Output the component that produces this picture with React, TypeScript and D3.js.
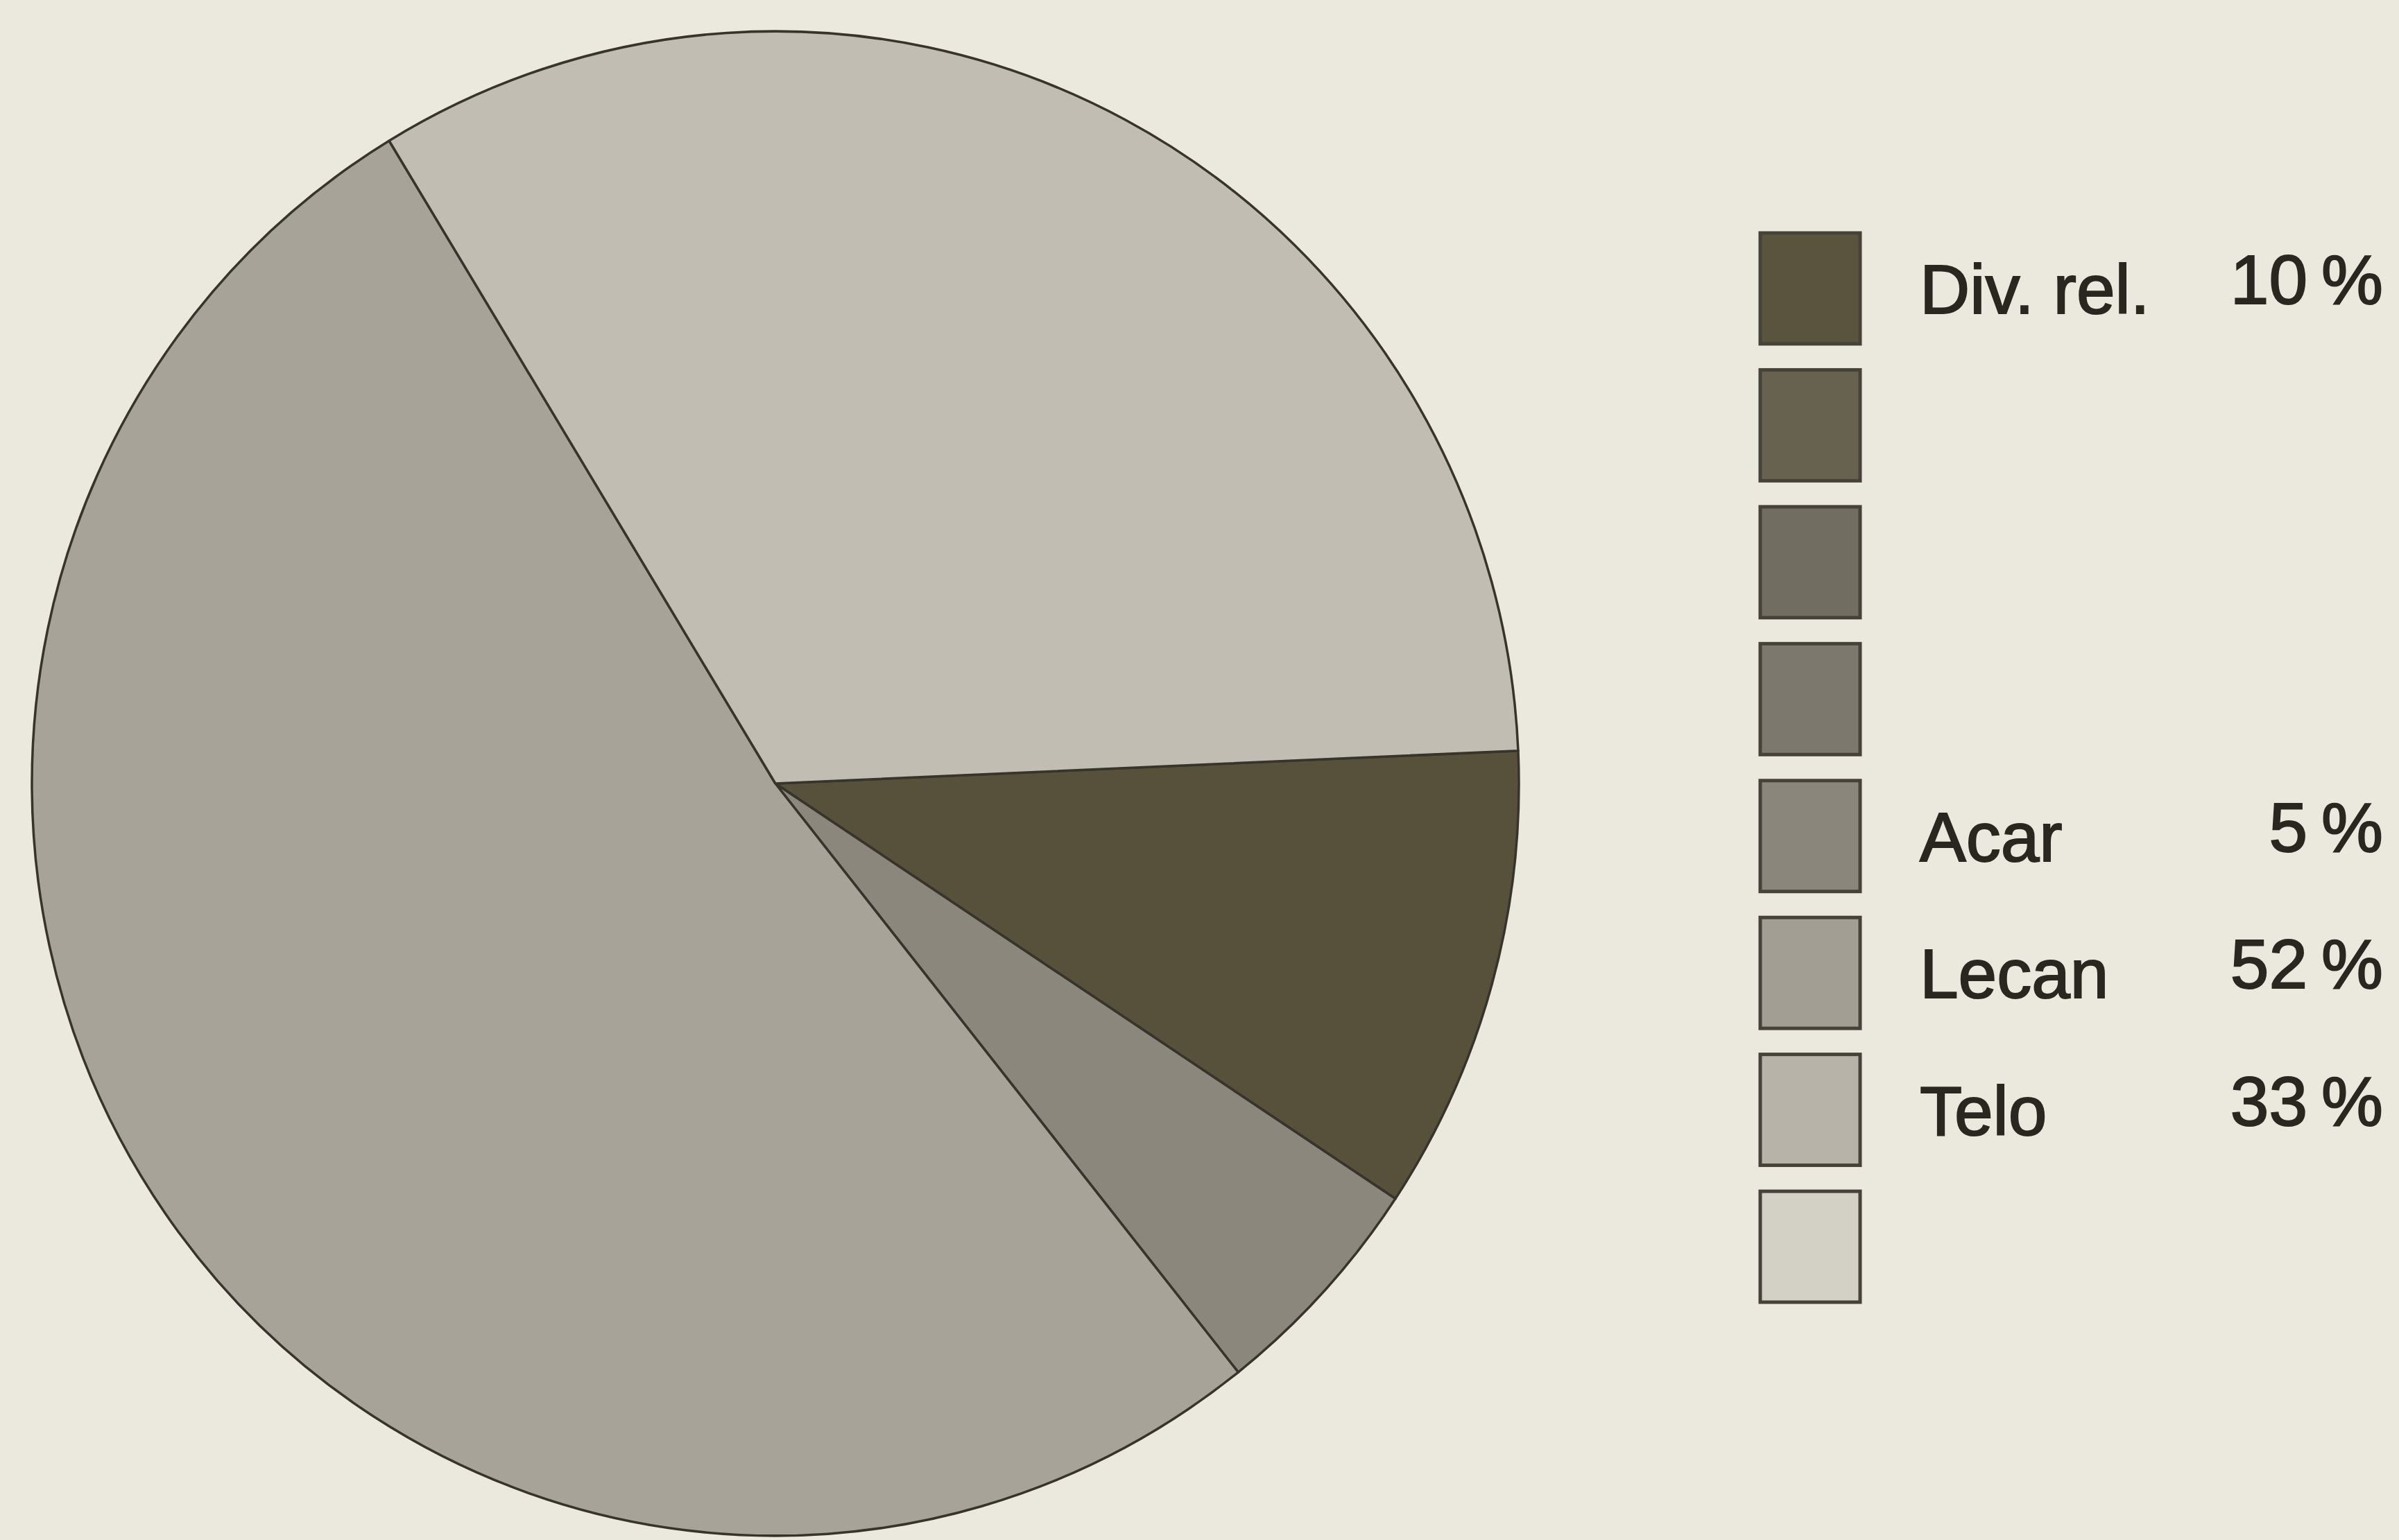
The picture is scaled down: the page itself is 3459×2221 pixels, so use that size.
import React from 'react'
import * as d3 from 'd3'

// pie slices, in clockwise order from about 3 o'clock
const categories = ['Div. rel.', 'Acar', 'Lecan', 'Telo']
const shares = [10, 5, 52, 33]
const sliceColors = ['#57513b', '#8b877d', '#a7a399', '#c1bdb2']

// legend: eight shaded boxes, only some of them labelled
const legendRows = [0, 1, 2, 3, 4, 5, 6, 7]
const legendColors = ['#5a543f', '#67624f', '#716d61', '#7c786d', '#8a867c', '#a29e94', '#b7b3a9', '#d3d0c6']
const legendLabels = ['Div. rel.', '', '', '', 'Acar', 'Lecan', 'Telo', '']
const legendShares = [10, null, null, null, 5, 52, 33, null]

const W = 3459
const H = 2221
const BG = '#ebe8dd'
const INK = '#2a2721'

const App = () => {
  const cx = 1118
  const cy = 1130
  const r = 1072
  const tilt = (2.5 * Math.PI) / 180 // the scan is a bit rotated

  const pie = d3
    .pie<number>()
    .sort(null)
    .value((d) => d)
    .startAngle(Math.PI / 2 - tilt)
    .endAngle(Math.PI / 2 - tilt + 2 * Math.PI)
  const arcs = pie(shares)
  const arc = d3.arc<any>().innerRadius(0).outerRadius(r)

  const y = d3
    .scaleBand<number>()
    .domain(legendRows)
    .range([336, 1878])
    .paddingInner(0.19)
    .paddingOuter(0)

  const boxX = 2538
  const boxW = 144
  const labelX = 2768
  const pctX = 3436
  const fontSize = 100

  return (
    <svg
      width={W}
      height={H}
      style={{ position: 'absolute', left: 0, top: 0, display: 'block' }}
      fontFamily="'Liberation Sans', Arial, sans-serif"
    >
      <rect width={W} height={H} fill={BG} />

      <g transform={`translate(${cx},${cy}) scale(1,1.012)`}>
        {arcs.map((a, i) => (
          <path
            key={categories[i]}
            d={arc(a)}
            fill={sliceColors[i]}
            stroke="#37342c"
            strokeWidth={3.5}
            strokeLinejoin="round"
          />
        ))}
      </g>

      {legendRows.map((row) => {
        const top = y(row)
        const h = y.bandwidth()
        const mid = top + h / 2
        return (
          <g key={row}>
            <rect
              x={boxX}
              y={top}
              width={boxW}
              height={h}
              fill={legendColors[row]}
              stroke="#46423a"
              strokeWidth={5}
            />
            {legendLabels[row] && (
              <text
                x={labelX}
                y={mid + 36}
                fontSize={fontSize}
                fill={INK}
                stroke={INK}
                strokeWidth={2}
              >
                {legendLabels[row]}
              </text>
            )}
            {legendShares[row] != null && (
              <text
                x={pctX}
                y={mid + 36 - 14}
                fontSize={fontSize}
                fill={INK}
                stroke={INK}
                strokeWidth={2}
                textAnchor="end"
              >
                {`${legendShares[row]}\u2009%`}
              </text>
            )}
          </g>
        )
      })}
    </svg>
  )
}

export default App
